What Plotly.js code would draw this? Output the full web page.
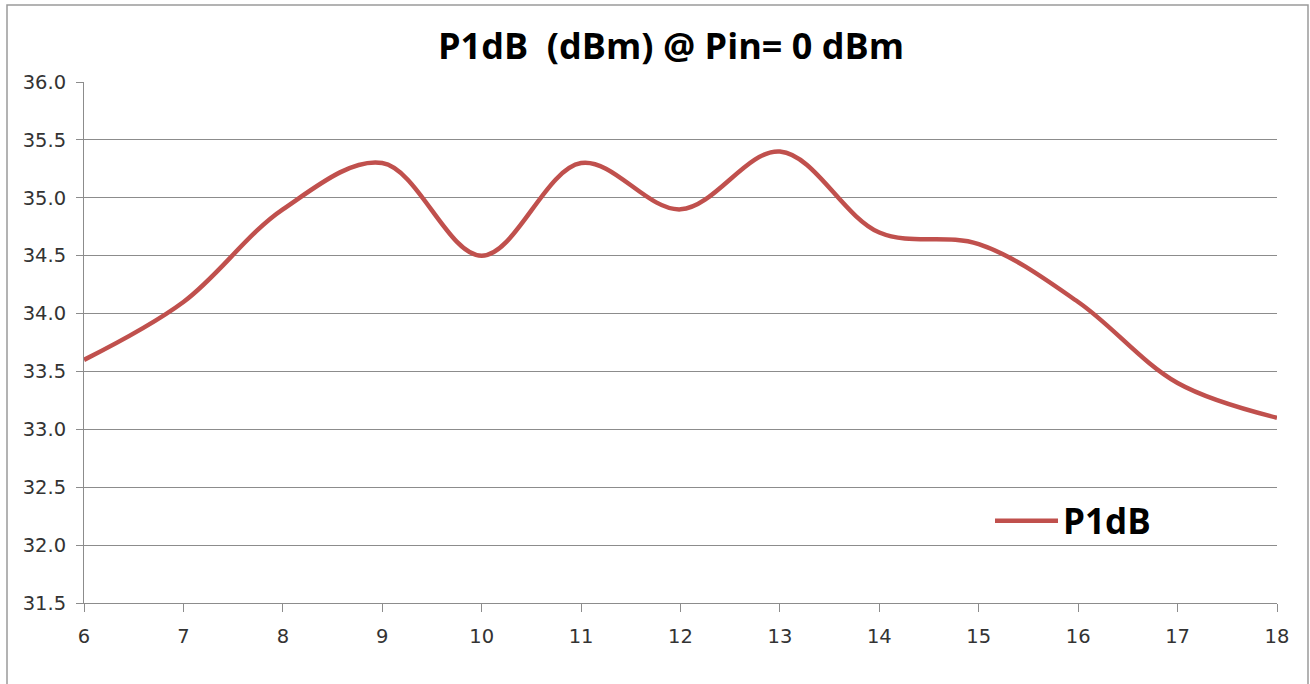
<!DOCTYPE html>
<html>
<head>
<meta charset="utf-8">
<script src="https://cdn.plot.ly/plotly-3.0.1.min.js"></script>
<style>
  html, body { margin: 0; padding: 0; background: #fff; overflow: hidden; }
  #chart { width: 1310px; height: 684px; }
</style>
</head>
<body>
<div id="chart"></div>
<script>
// Data
const frequencies = [6, 7, 8, 9, 10, 11, 12, 13, 14, 15, 16, 17, 18];
const p1dbValues = [33.6, 34.1, 34.9, 35.3, 34.5, 35.3, 34.9, 35.4, 34.7, 34.6, 34.1, 33.4, 33.1];
const seriesName = 'P1dB';
const chartTitle = 'P1dB  (dBm) @ Pin= 0 dBm';
const yTickValues = [31.5, 32.0, 32.5, 33.0, 33.5, 34.0, 34.5, 35.0, 35.5, 36.0];
const xTickValues = [6, 7, 8, 9, 10, 11, 12, 13, 14, 15, 16, 17, 18];

// Layout geometry (pixels)
const W = 1310, H = 684;
const M = { l: 84, r: 33, t: 82, b: 81 };
const pw = W - M.l - M.r, ph = H - M.t - M.b;
const px2paperX = p => (p - M.l) / pw;
const px2paperY = p => (H - M.b - p) / ph;

const gridColor = '#8c8c8c';
const tickFont = { family: 'DejaVu Sans, Verdana, sans-serif', size: 19.5, color: '#333333' };

const trace = {
  x: frequencies,
  y: p1dbValues,
  type: 'scatter',
  mode: 'lines',
  name: seriesName,
  line: { color: '#C0504D', width: 4.5, shape: 'spline', smoothing: 1.0 },
  showlegend: true
};

const layout = {
  width: W, height: H,
  margin: M,
  paper_bgcolor: '#ffffff',
  plot_bgcolor: '#ffffff',
  title: {
    text: chartTitle,
    font: { family: 'Open Sans, sans-serif', size: 36, color: '#000000', weight: 'bold' },
    x: 671 / W, xanchor: 'center', xref: 'container',
    y: 1 - 46 / H, yanchor: 'middle', yref: 'container'
  },
  xaxis: {
    range: [6, 18],
    tickvals: xTickValues,
    ticktext: xTickValues.map(String),
    showgrid: false,
    zeroline: false,
    showline: true, linecolor: gridColor, linewidth: 1,
    ticks: 'outside', ticklen: 8, tickcolor: gridColor, tickwidth: 1,
    tickfont: tickFont,
    ticklabelstandoff: 8,
    fixedrange: true
  },
  yaxis: {
    range: [31.5, 36.0],
    tickvals: yTickValues,
    ticktext: yTickValues.map(v => v.toFixed(1)),
    showgrid: true, gridcolor: gridColor, gridwidth: 1,
    zeroline: false,
    showline: true, linecolor: gridColor, linewidth: 1,
    ticks: 'outside', ticklen: 7, tickcolor: gridColor, tickwidth: 1,
    tickfont: tickFont,
    ticklabelstandoff: 6,
    fixedrange: true
  },
  legend: {
    x: px2paperX(990), xanchor: 'left',
    y: px2paperY(521), yanchor: 'middle',
    bgcolor: 'rgba(0,0,0,0)',
    itemwidth: 63,
    font: { family: 'Open Sans, sans-serif', size: 35, color: '#000000', weight: 'bold' }
  },
  shapes: [
    {
      type: 'rect', xref: 'paper', yref: 'paper',
      x0: px2paperX(7), x1: px2paperX(1308),
      y0: px2paperY(690), y1: px2paperY(5),
      line: { color: '#9a9a9a', width: 1.5 },
      fillcolor: 'rgba(0,0,0,0)',
      layer: 'below'
    }
  ]
};

Plotly.newPlot('chart', [trace], layout, { displayModeBar: false, staticPlot: true });
</script>
</body>
</html>
